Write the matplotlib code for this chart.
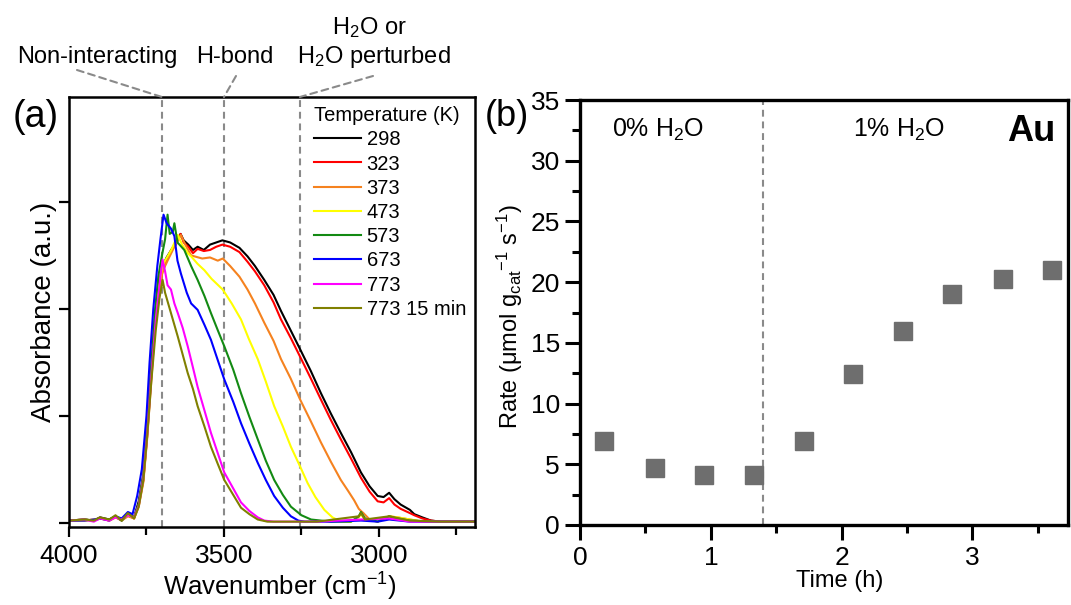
import numpy as np
import matplotlib
matplotlib.use("Agg")
import matplotlib.pyplot as plt

plt.rcParams['font.family'] = ['Liberation Sans', 'DejaVu Sans']
plt.rcParams['mathtext.fontset'] = 'custom'
plt.rcParams['mathtext.rm'] = 'Liberation Sans'
plt.rcParams['mathtext.it'] = 'Liberation Sans:italic'
plt.rcParams['mathtext.bf'] = 'Liberation Sans:bold'

# ── (a) DRIFTS spectra ──────────────────────────────────────────────────────
wn_298 = [4000, 3950, 3920, 3900, 3870, 3850, 3830, 3810, 3790, 3775, 3760, 3748, 3735,
          3722, 3710, 3698, 3685, 3670, 3655, 3640, 3630, 3615, 3600, 3585, 3565, 3545,
          3525, 3505, 3480, 3450, 3424, 3400, 3370, 3340, 3316, 3285, 3254, 3220, 3187,
          3155, 3123, 3090, 3058, 3030, 3004, 2985, 2967, 2950, 2930, 2900, 2886, 2860,
          2832, 2800, 2750, 2690]
ab_298 = [0.02, 0.03, 0.02, 0.05, 0.03, 0.06, 0.02, 0.09, 0.05, 0.20, 0.45, 0.85, 1.40,
          1.95, 2.25, 2.40, 2.48, 2.55, 2.62, 2.70, 2.64, 2.60, 2.55, 2.58, 2.55, 2.60,
          2.62, 2.64, 2.62, 2.57, 2.49, 2.40, 2.27, 2.13, 1.98, 1.80, 1.62, 1.42, 1.21,
          1.02, 0.84, 0.66, 0.47, 0.34, 0.25, 0.24, 0.28, 0.22, 0.17, 0.12, 0.08, 0.05,
          0.02, 0.01, 0.01, 0.01]

wn_323 = [4000, 3950, 3920, 3900, 3870, 3850, 3830, 3810, 3790, 3775, 3760, 3748, 3735,
          3722, 3710, 3698, 3685, 3670, 3655, 3640, 3630, 3615, 3600, 3585, 3565, 3545,
          3525, 3505, 3480, 3450, 3424, 3400, 3370, 3340, 3316, 3285, 3254, 3220, 3187,
          3155, 3123, 3090, 3058, 3030, 3004, 2985, 2967, 2950, 2930, 2900, 2886, 2860,
          2832, 2800, 2750, 2690]
ab_323 = [0.02, 0.02, 0.03, 0.04, 0.02, 0.05, 0.03, 0.07, 0.04, 0.17, 0.40, 0.80, 1.35,
          1.90, 2.20, 2.35, 2.45, 2.55, 2.60, 2.70, 2.62, 2.58, 2.52, 2.56, 2.54, 2.55,
          2.58, 2.60, 2.58, 2.53, 2.44, 2.35, 2.22, 2.06, 1.90, 1.73, 1.55, 1.35, 1.15,
          0.96, 0.78, 0.60, 0.42, 0.29, 0.20, 0.19, 0.23, 0.17, 0.13, 0.09, 0.07, 0.04,
          0.02, 0.01, 0.01, 0.01]

wn_373 = [4000, 3950, 3920, 3900, 3870, 3850, 3830, 3810, 3790, 3775, 3760, 3748, 3735,
          3722, 3710, 3698, 3682, 3660, 3639, 3625, 3606, 3595, 3570, 3545, 3520, 3504,
          3480, 3450, 3424, 3400, 3370, 3340, 3316, 3285, 3254, 3220, 3187, 3155, 3123,
          3100, 3080, 3065, 3058, 3050, 3030, 3004, 2967, 2940, 2900, 2860, 2800, 2690]
ab_373 = [0.02, 0.03, 0.02, 0.04, 0.03, 0.05, 0.02, 0.06, 0.04, 0.15, 0.38, 0.78, 1.30,
          1.85, 2.15, 2.35, 2.45, 2.58, 2.69, 2.60, 2.50, 2.49, 2.47, 2.48, 2.45, 2.47,
          2.40, 2.30, 2.18, 2.05, 1.87, 1.70, 1.53, 1.35, 1.15, 0.95, 0.75, 0.57, 0.40,
          0.30, 0.21, 0.13, 0.11, 0.09, 0.03, 0.01, 0.06, 0.05, 0.03, 0.01, 0.01, 0.01]

wn_473 = [4000, 3950, 3920, 3900, 3870, 3850, 3830, 3810, 3790, 3775, 3760, 3748, 3735,
          3722, 3710, 3700, 3690, 3670, 3649, 3635, 3617, 3606, 3585, 3563, 3540, 3504,
          3475, 3445, 3420, 3391, 3365, 3338, 3310, 3284, 3255, 3230, 3205, 3176, 3150,
          3123, 3090, 3065, 3058, 3045, 3004, 2967, 2940, 2900, 2860, 2800, 2690]
ab_473 = [0.02, 0.02, 0.03, 0.04, 0.02, 0.05, 0.03, 0.07, 0.05, 0.16, 0.42, 0.85, 1.40,
          1.90, 2.20, 2.38, 2.45, 2.55, 2.69, 2.60, 2.52, 2.49, 2.42, 2.36, 2.28, 2.18,
          2.05, 1.90, 1.72, 1.53, 1.32, 1.09, 0.90, 0.71, 0.53, 0.37, 0.24, 0.12, 0.05,
          0.01, 0.01, 0.05, 0.08, 0.03, 0.01, 0.06, 0.05, 0.03, 0.01, 0.01, 0.01]

wn_573 = [4000, 3950, 3920, 3900, 3870, 3850, 3830, 3810, 3790, 3775, 3760, 3748, 3735,
          3722, 3712, 3700, 3690, 3682, 3675, 3665, 3660, 3650, 3628, 3606, 3585, 3563,
          3542, 3520, 3499, 3470, 3445, 3418, 3391, 3365, 3338, 3310, 3284, 3250, 3219,
          3155, 3090, 3065, 3058, 3045, 3004, 2967, 2940, 2900, 2800, 2690]
ab_573 = [0.02, 0.03, 0.02, 0.04, 0.03, 0.06, 0.02, 0.08, 0.05, 0.18, 0.45, 0.90, 1.45,
          2.00, 2.30, 2.50, 2.65, 2.88, 2.70, 2.72, 2.80, 2.62, 2.55, 2.40, 2.27, 2.12,
          1.96, 1.80, 1.65, 1.43, 1.21, 0.99, 0.78, 0.58, 0.40, 0.26, 0.15, 0.07, 0.03,
          0.01, 0.01, 0.06, 0.10, 0.04, 0.01, 0.06, 0.04, 0.02, 0.01, 0.01]

wn_673 = [4000, 3950, 3920, 3900, 3870, 3850, 3830, 3810, 3795, 3780, 3765, 3750, 3740,
          3728, 3715, 3705, 3695, 3685, 3671, 3660, 3650, 3639, 3620, 3606, 3585, 3563,
          3542, 3520, 3499, 3470, 3445, 3418, 3391, 3365, 3338, 3310, 3284, 3260, 3240,
          3155, 3058, 3004, 2967, 2900, 2800, 2690]
ab_673 = [0.02, 0.02, 0.03, 0.04, 0.02, 0.06, 0.04, 0.10, 0.08, 0.25, 0.50, 1.00, 1.50,
          2.00, 2.40, 2.65, 2.88, 2.80, 2.75, 2.68, 2.45, 2.33, 2.15, 2.05, 1.99, 1.85,
          1.71, 1.52, 1.34, 1.13, 0.93, 0.74, 0.56, 0.40, 0.25, 0.14, 0.06, 0.02, 0.01,
          0.01, 0.02, 0.01, 0.03, 0.01, 0.01, 0.01]

wn_773 = [4000, 3950, 3920, 3900, 3870, 3850, 3830, 3810, 3790, 3775, 3760, 3748, 3735,
          3720, 3705, 3698, 3690, 3682, 3671, 3660, 3649, 3633, 3617, 3600, 3585, 3563,
          3542, 3520, 3499, 3470, 3445, 3418, 3391, 3370, 3340, 3200, 3058, 2967, 2900,
          2800, 2690]
ab_773 = [0.02, 0.03, 0.01, 0.04, 0.02, 0.05, 0.03, 0.07, 0.05, 0.16, 0.42, 0.82, 1.35,
          1.90, 2.30, 2.46, 2.35, 2.22, 2.18, 2.05, 1.96, 1.82, 1.65, 1.45, 1.27, 1.05,
          0.84, 0.65, 0.47, 0.32, 0.19, 0.11, 0.05, 0.02, 0.01, 0.01, 0.03, 0.04, 0.01,
          0.01, 0.01]

wn_773_15 = [4000, 3950, 3920, 3900, 3870, 3850, 3830, 3810, 3790, 3775, 3760, 3748,
             3735, 3720, 3708, 3698, 3690, 3680, 3671, 3660, 3649, 3633, 3617, 3600, 3585,
             3563, 3542, 3520, 3499, 3470, 3445, 3418, 3391, 3360, 3200, 3065, 3058, 3045,
             2967, 2900, 2800, 2690]
ab_773_15 = [0.02, 0.03, 0.02, 0.05, 0.03, 0.07, 0.02, 0.09, 0.04, 0.15, 0.40, 0.80,
             1.30, 1.80, 2.10, 2.27, 2.15, 2.05, 1.96, 1.85, 1.74, 1.57, 1.40, 1.25, 1.09,
             0.90, 0.71, 0.55, 0.40, 0.26, 0.14, 0.08, 0.03, 0.01, 0.01, 0.06, 0.09, 0.03,
             0.06, 0.02, 0.01, 0.01]

spectra = [
    ("298", wn_298, ab_298, "black"),
    ("323", wn_323, ab_323, "#ff0000"),
    ("373", wn_373, ab_373, "#f5821f"),
    ("473", wn_473, ab_473, "#ffff00"),
    ("573", wn_573, ab_573, "#138a13"),
    ("673", wn_673, ab_673, "#0000ff"),
    ("773", wn_773, ab_773, "#ff00ff"),
    ("773 15 min", wn_773_15, ab_773_15, "#808000"),
]

band_positions = [3700, 3500, 3255]

# ── (b) rate vs time ─────────────────────────────────────────────────────────
time_h = [0.18, 0.57, 0.945, 1.33, 1.71, 2.09, 2.47, 2.845, 3.23, 3.61]
rate = [6.9, 4.7, 4.15, 4.15, 6.9, 12.4, 16.0, 19.0, 20.3, 21.0]
switch_time = 1.40

W, H = 1071, 605
fig = plt.figure(figsize=(W / 100, H / 100), dpi=100)

def fx(px):
    return px / W

def fy(py):
    return 1 - py / H

ax1 = fig.add_axes([fx(69), fy(527), fx(475) - fx(69), fy(97) - fy(527)])
ax2 = fig.add_axes([fx(580), fy(525), fx(1068) - fx(580), fy(100) - fy(525)])

dash = (0, (3.3, 2.3))
gray = "#8a8a8a"

# ── panel (a)
for lab, wn, ab, col in spectra:
    ax1.plot(wn, ab, color=col, lw=1.5, label=lab)

for b in band_positions:
    ax1.axvline(b, color=gray, ls=dash, lw=1.5, zorder=0)

ax1.set_xlim(4000, 2690)
ax1.set_ylim(-0.04, 3.98)
ax1.set_xticks([4000, 3500, 3000])
ax1.set_xticks([3750, 3250, 2750], minor=True)
ax1.set_yticks([0, 1, 2, 3])
ax1.set_yticklabels([])
ax1.tick_params(axis='both', which='major', direction='out', length=7, width=1.6,
                labelsize=19, pad=5)
ax1.tick_params(axis='x', which='minor', direction='out', length=6, width=1.6)
for s in ax1.spines.values():
    s.set_linewidth(1.8)
ax1.set_xlabel("Wavenumber (cm$^{-1}$)", fontsize=18.5)
ax1.set_ylabel("Absorbance (a.u.)", fontsize=20)
ax1.xaxis.set_label_coords(0.52, -0.102)
ax1.yaxis.set_label_coords(-0.03, 0.5)

leg = ax1.legend(loc='upper right', frameon=False, fontsize=14.5, title="Temperature (K)",
                 title_fontsize=14.5, handlelength=2.3, handletextpad=0.3,
                 labelspacing=0.26, borderaxespad=0.15, borderpad=0.3,
                 alignment='left')

# band labels above panel (a), with dashed leader lines
fig.text(fx(97), fy(57), "Non-interacting", fontsize=17, ha='center', va='center')
fig.text(fx(235), fy(57), "H-bond", fontsize=17, ha='center', va='center')
fig.text(fx(374), fy(57), "H$_2$O perturbed", fontsize=17, ha='center', va='center')
fig.text(fx(369), fy(28), "H$_2$O or", fontsize=17, ha='center', va='center')
leaders = [((77, 70), 3700), ((236, 76), 3500), ((373, 76), 3255)]
for (px, py), b in leaders:
    ax1.annotate("", xy=(b, 3.98), xycoords='data',
                 xytext=(fx(px), fy(py)), textcoords='figure fraction',
                 arrowprops=dict(arrowstyle='-', color=gray, lw=1.5, ls=(0, (3.3, 2.3)),
                                 shrinkA=0, shrinkB=0),
                 annotation_clip=False)

fig.text(fx(36), fy(117), "(a)", fontsize=27, ha='center', va='center')

# ── panel (b)
ax2.plot(time_h, rate, ls='none', marker='s', ms=12.5, color='#6e6e6e', mec='#6e6e6e')
ax2.axvline(switch_time, color=gray, ls=dash, lw=1.5, zorder=0)
ax2.set_xlim(0, 3.73)
ax2.set_ylim(0, 35)
ax2.set_xticks([0, 1, 2, 3])
ax2.set_xticks([0.5, 1.5, 2.5, 3.5], minor=True)
ax2.set_yticks(np.arange(0, 36, 5))
ax2.set_yticks(np.arange(2.5, 35, 5), minor=True)
ax2.tick_params(axis='both', which='major', direction='out', length=11, width=2.2,
                labelsize=19)
ax2.tick_params(axis='x', which='major', pad=4)
ax2.tick_params(axis='both', which='minor', direction='out', length=6, width=2.2)
for s in ax2.spines.values():
    s.set_linewidth(2.4)
ax2.set_xlabel("Time (h)", fontsize=17)
ax2.set_ylabel("Rate (μmol g$_{\\mathrm{cat}}$$^{-1}$ s$^{-1}$)", fontsize=17)
ax2.xaxis.set_label_coords(0.533, -0.105)
ax2.yaxis.set_label_coords(-0.112, 0.49)

ax2.text(0.6, 32.5, "0% H$_2$O", fontsize=18, ha='center', va='center')
ax2.text(2.44, 32.5, "1% H$_2$O", fontsize=18, ha='center', va='center')
ax2.text(3.45, 32.4, "Au", fontsize=26, fontweight='bold', ha='center', va='center')

fig.text(fx(507), fy(117), "(b)", fontsize=26, ha='center', va='center')

fig.savefig("out.png", dpi=100)
